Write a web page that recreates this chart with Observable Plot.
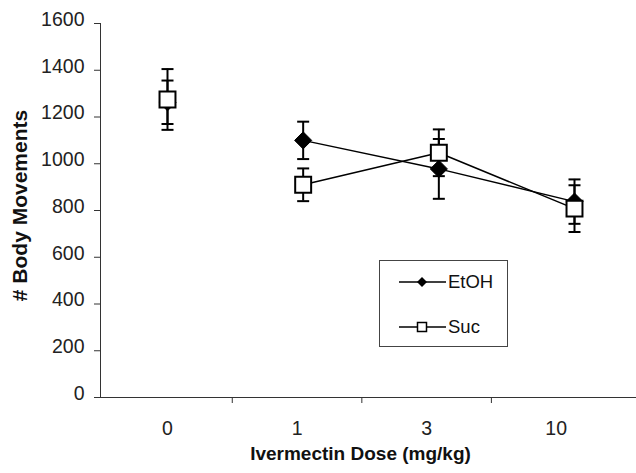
<!DOCTYPE html>
<html><head><meta charset="utf-8">
<script src="https://cdn.jsdelivr.net/npm/d3@7"></script>
<script src="https://cdn.jsdelivr.net/npm/@observablehq/plot@0.6"></script>
<style>
body{margin:0;background:#fff;}
#chart{position:relative;width:636px;height:473px;}
</style></head><body><div id="chart"></div>
<script>
// ---- data ----
const doses = ["0", "1", "3", "10"];
const seriesNames = ["EtOH", "Suc"];
const etohMean = [1263, 1100, 978, 838];
const etohErr  = [93, 80, 128, 95];
const sucMean  = [1275, 910, 1047, 808];
const sucErr   = [130, 70, 100, 100];
const yTicks = [0, 200, 400, 600, 800, 1000, 1200, 1400, 1600];
const xTitle = "Ivermectin Dose (mg/kg)";
const yTitle = "# Body Movements";

// ---- table built from arrays ----
const etohRows = doses.map((d, i) => ({series: seriesNames[0], i, dose: d, mean: etohMean[i], err: etohErr[i]}));
const sucRows  = doses.map((d, i) => ({series: seriesNames[1], i, dose: d, mean: sucMean[i], err: sucErr[i]}));
const onLine = r => r.dose !== "0";

// category axis positions (axis categories are slightly tighter than marker spacing in the reference)
const axisSpacing = 0.955;
const labelPos = doses.map((d, i) => i * axisSpacing);
const boundaryPos = doses.slice(1).map((d, i) => (i + 0.5) * axisSpacing);

const capSymbol = {draw(ctx, size) { const r = Math.sqrt(size / Math.PI); ctx.moveTo(-r, 0); ctx.lineTo(r, 0); }};

function errorMarks(rows) {
  return [
    Plot.ruleX(rows, {x: "i", y1: d => d.mean - d.err, y2: d => d.mean + d.err, stroke: "black", strokeWidth: 2}),
    Plot.dot(rows, {x: "i", y: d => d.mean + d.err, symbol: capSymbol, r: 6, stroke: "black", strokeWidth: 2, fill: "none"}),
    Plot.dot(rows, {x: "i", y: d => d.mean - d.err, symbol: capSymbol, r: 6, stroke: "black", strokeWidth: 2, fill: "none"})
  ];
}

const font = "'Liberation Sans', Arial, sans-serif";

const chart = Plot.plot({
  width: 636,
  height: 473,
  marginLeft: 100,
  marginRight: 0,
  marginTop: 23,
  marginBottom: 76,
  style: {fontFamily: font, background: "white", overflow: "visible"},
  x: {type: "linear", domain: [0, 3], range: [167, 574], axis: null},
  y: {domain: [0, 1600], axis: null},
  marks: [
    // axes
    Plot.axisY({ticks: yTicks, tickSize: 6, fill: "none", stroke: "#333", label: null}),
    Plot.axisY({ticks: yTicks, tickSize: 0, tickPadding: 16, dy: -4, fontSize: 19.5, fill: "#222", label: null, tickFormat: d => String(d)}),
    Plot.axisX({ticks: boundaryPos, tickSize: 6, fill: "none", stroke: "#333", label: null}),
    Plot.axisX({ticks: labelPos, tickSize: 0, tickPadding: 24, fontSize: 19.5, fill: "#222", label: null, tickFormat: d => doses[labelPos.indexOf(d)]}),
    Plot.frame({anchor: "left", stroke: "#333"}),
    Plot.ruleY([0], {stroke: "#333"}),
    // titles
    Plot.text([xTitle], {text: d => d, frameAnchor: "bottom", textAnchor: "middle", dx: -8, dy: 62, fontSize: 19, fontWeight: "bold", fill: "#111"}),
    Plot.text([yTitle], {text: d => d, frameAnchor: "left", textAnchor: "middle", rotate: -90, dx: -80, dy: -5, fontSize: 21, fontWeight: "bold", fill: "#111"}),
    // EtOH
    Plot.line(etohRows.filter(onLine), {x: "i", y: "mean", stroke: "black", strokeWidth: 1.5}),
    ...errorMarks(etohRows),
    Plot.dot(etohRows, {x: "i", y: "mean", symbol: "diamond2", r: 7.7, fill: "black", stroke: "black", strokeWidth: 1}),
    // Suc
    Plot.line(sucRows.filter(onLine), {x: "i", y: "mean", stroke: "black", strokeWidth: 1.5}),
    ...errorMarks(sucRows),
    Plot.dot(sucRows, {x: "i", y: "mean", symbol: "square", r: 9, fill: "white", stroke: "black", strokeWidth: 2})
  ]
});

document.getElementById("chart").appendChild(chart);

// ---- legend (drawn into the same svg) ----
const svg = d3.select(chart);
const lg = svg.append("g").attr("font-family", font).attr("text-anchor", "start");
lg.append("rect").attr("x", 379.5).attr("y", 260.5).attr("width", 128).attr("height", 86)
  .attr("fill", "white").attr("stroke", "#444").attr("stroke-width", 1);
const entryY = [282, 327];
seriesNames.forEach((name, k) => {
  const y = entryY[k];
  lg.append("line").attr("x1", 399).attr("x2", 446).attr("y1", y).attr("y2", y).attr("stroke", "black").attr("stroke-width", 1.5);
  if (k === 0) {
    lg.append("path").attr("d", `M422,${y-5}L427,${y}L422,${y+5}L417,${y}Z`).attr("fill", "black");
  } else {
    lg.append("rect").attr("x", 417.5).attr("y", y - 4.5).attr("width", 9).attr("height", 9)
      .attr("fill", "white").attr("stroke", "black").attr("stroke-width", 1.5);
  }
  lg.append("text").attr("x", 448).attr("y", y).attr("dy", "0.35em").attr("font-size", 18.5)
    .attr("text-anchor", "start").attr("fill", "#111").text(name);
});
</script>
</body></html>
